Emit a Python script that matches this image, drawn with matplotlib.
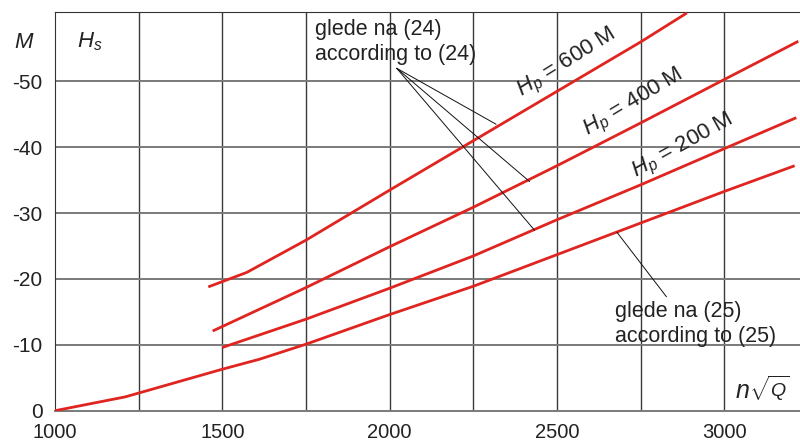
import matplotlib
matplotlib.use("Agg")
import matplotlib.pyplot as plt

plt.rcParams['font.family'] = ['Liberation Sans', 'DejaVu Sans']
plt.rcParams['mathtext.fontset'] = 'custom'
plt.rcParams['mathtext.it'] = 'Liberation Sans:italic'
plt.rcParams['mathtext.rm'] = 'Liberation Sans'

# n*sqrt(Q) vs H_s (plotted as magnitude, labelled negative)
n_base = [1000, 1210, 1500, 1610, 1750, 2000, 2250, 2500, 2750, 3000, 3210]
hs_base = [0, 2.1, 6.3, 7.8, 10.1, 14.6, 18.9, 23.7, 28.5, 33.3, 37.2]

n_200 = [1500, 1750, 2000, 2250, 2500, 2750, 3000, 3215]
hs_200 = [9.6, 13.9, 18.6, 23.5, 29.0, 34.3, 39.8, 44.5]

n_400 = [1471, 1750, 2000, 2250, 2500, 2750, 3000, 3221]
hs_400 = [12.1, 18.7, 24.9, 30.9, 37.2, 43.7, 50.3, 56.1]

n_600 = [1458, 1573, 1750, 2000, 2250, 2500, 2750, 2888]
hs_600 = [18.8, 21.0, 25.9, 33.5, 41.0, 48.5, 56.0, 60.4]

xticks = [1000, 1500, 2000, 2500, 3000]
yticks = [0, 10, 20, 30, 40, 50]
ylabels = ['0', '-10', '-20', '-30', '-40', '-50']

red = '#e02420'
txt = '#222222'

fig = plt.figure(figsize=(8, 4.45), dpi=100)
ax = fig.add_axes([55 / 800, 34.3 / 445, 745 / 800, 398.4 / 445])

for xs, ys in [(n_base, hs_base), (n_200, hs_200), (n_400, hs_400), (n_600, hs_600)]:
    ax.plot(xs, ys, color=red, lw=2.0, solid_capstyle='butt', zorder=3)

ax.set_xlim(1000, 3226)
ax.set_ylim(0, 60.5)

for xv in range(1250, 3251, 250):
    ax.axvline(xv, color='#3a3a3a', lw=1.0, zorder=1)
for yv in range(10, 60, 10):
    ax.axhline(yv, color='#7a7a7a', lw=1.4, zorder=1)

ax.spines['right'].set_visible(False)
ax.spines['left'].set_color('#333333')
ax.spines['top'].set_color('#333333')
ax.spines['bottom'].set_color('#7a7a7a')
ax.spines['bottom'].set_linewidth(1.4)

ax.set_xticks(xticks)
ax.set_yticks(yticks, ylabels)
ax.tick_params(length=0, labelcolor=txt)
ax.tick_params(axis='x', labelsize=14.5, pad=8.5)
ax.tick_params(axis='y', labelsize=15, pad=9)

fig.text(24 / 800, 1 - 42 / 445, 'M', fontsize=16, style='italic', color=txt,
         ha='center', va='center')
ax.text(1066, 56, r'$H_s$', fontsize=16, color=txt, ha='left', va='center')
ax.text(3035, 1.9, 'n', fontsize=18, style='italic', color=txt, ha='left', va='baseline')
ax.text(3075, 2.1, r'$\sqrt{Q}$', fontsize=14, color=txt, ha='left', va='baseline')

ax.text(2529, 52.8, r'$H_p$ = 600 M', fontsize=16, color=txt, rotation=32,
        ha='center', va='center', rotation_mode='anchor')
ax.text(2729, 46.7, r'$H_p$ = 400 M', fontsize=16, color=txt, rotation=31,
        ha='center', va='center', rotation_mode='anchor')
ax.text(2878, 40.1, r'$H_p$ = 200 M', fontsize=16, color=txt, rotation=29,
        ha='center', va='center', rotation_mode='anchor')

ax.text(1777, 57.1, 'glede na (24)', fontsize=15.5, color=txt, ha='left', va='baseline')
ax.text(1777, 53.3, 'according to (24)', fontsize=15.5, color=txt, ha='left', va='baseline')
for end in [(2318, 43.5), (2418, 34.8), (2433, 27.4)]:
    ax.annotate('', xy=end, xytext=(2021, 52.0),
                arrowprops=dict(arrowstyle='-', color='#111111', lw=0.7,
                                shrinkA=0, shrinkB=0))

ax.text(2674, 14.3, 'glede na (25)', fontsize=15.5, color=txt, ha='left', va='baseline')
ax.text(2674, 10.5, 'according to (25)', fontsize=15.5, color=txt, ha='left', va='baseline')
ax.annotate('', xy=(2679, 27.1), xytext=(2827, 17.3),
            arrowprops=dict(arrowstyle='-', color='#111111', lw=0.7,
                            shrinkA=0, shrinkB=0))

fig.savefig('out.png', dpi=100)
